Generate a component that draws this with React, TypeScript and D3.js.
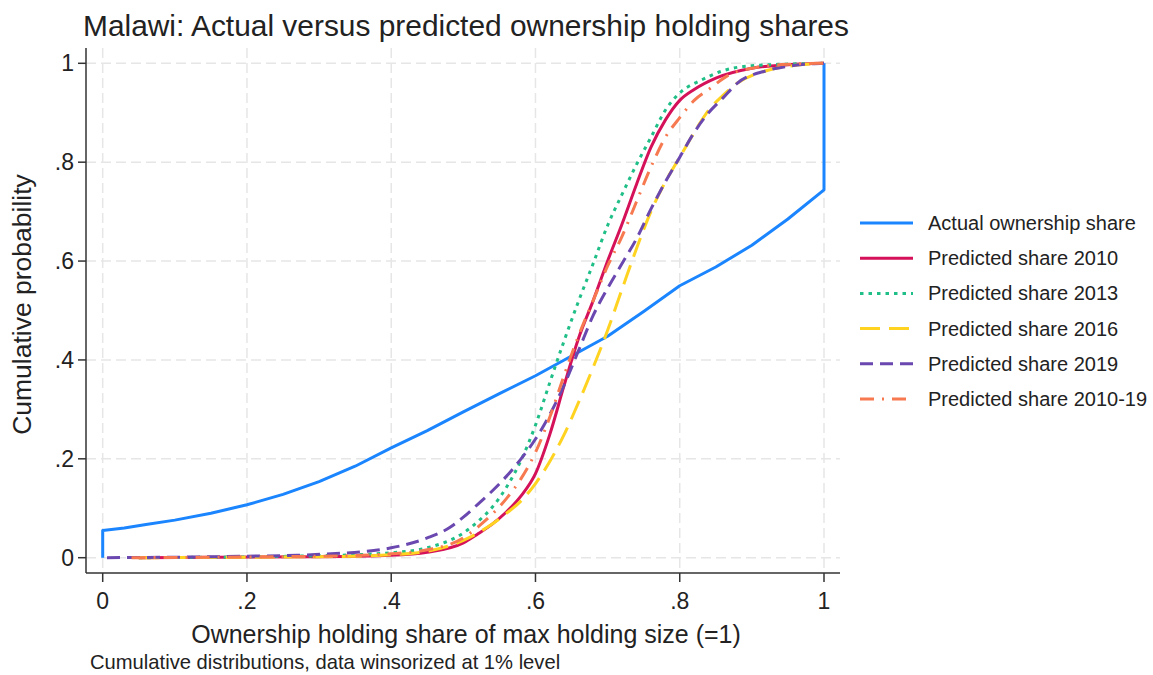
import { useEffect, useRef } from 'react'
import * as d3 from 'd3'

type Pt = [number, number]

const W = 1153
const H = 675
const FONT = '"Liberation Sans", Arial, Helvetica, sans-serif'

const TITLE = 'Malawi: Actual versus predicted ownership holding shares'
const X_TITLE = 'Ownership holding share of max holding size (=1)'
const Y_TITLE = 'Cumulative probability'
const NOTE = 'Cumulative distributions, data winsorized at 1% level'

const X_TICKS = [0, 0.2, 0.4, 0.6, 0.8, 1]
const Y_TICKS = [0, 0.2, 0.4, 0.6, 0.8, 1]

const actual: Pt[] = [
  [0, 0], [0, 0.055], [0.03, 0.06], [0.06, 0.067], [0.1, 0.076], [0.15, 0.09], [0.2, 0.107],
  [0.25, 0.128], [0.3, 0.154], [0.35, 0.185], [0.4, 0.222], [0.45, 0.257],
  [0.5, 0.295], [0.55, 0.332], [0.6, 0.368], [0.65, 0.408], [0.7, 0.448],
  [0.75, 0.498], [0.8, 0.55], [0.85, 0.588], [0.9, 0.632], [0.95, 0.685],
  [1, 0.744], [1, 1],
]

const pred2010: Pt[] = [
  [0.05, 0], [0.3, 0.002], [0.4, 0.005], [0.45, 0.011], [0.5, 0.03], [0.52, 0.048],
  [0.54, 0.068], [0.56, 0.093], [0.58, 0.125], [0.6, 0.17], [0.62, 0.25], [0.64, 0.35],
  [0.66, 0.445], [0.68, 0.52], [0.7, 0.6], [0.72, 0.675], [0.74, 0.755], [0.76, 0.83],
  [0.78, 0.885], [0.8, 0.925], [0.82, 0.947], [0.85, 0.97], [0.9, 0.99], [0.95, 0.997], [1, 1],
]

const pred2013: Pt[] = [
  [0.05, 0], [0.3, 0.004], [0.4, 0.01], [0.45, 0.02], [0.5, 0.05], [0.52, 0.073],
  [0.54, 0.102], [0.56, 0.143], [0.58, 0.197], [0.6, 0.268], [0.62, 0.355], [0.64, 0.44],
  [0.66, 0.52], [0.68, 0.595], [0.7, 0.672], [0.72, 0.735], [0.74, 0.795], [0.76, 0.85],
  [0.78, 0.905], [0.8, 0.94], [0.83, 0.966], [0.86, 0.985], [0.9, 0.995], [1, 1],
]

const pred2016: Pt[] = [
  [0.05, 0], [0.3, 0.002], [0.4, 0.006], [0.45, 0.013], [0.5, 0.035], [0.52, 0.05],
  [0.54, 0.068], [0.56, 0.09], [0.58, 0.115], [0.6, 0.15], [0.62, 0.195], [0.64, 0.25],
  [0.66, 0.315], [0.68, 0.385], [0.7, 0.46], [0.72, 0.543], [0.74, 0.625], [0.76, 0.7],
  [0.78, 0.76], [0.8, 0.81], [0.82, 0.86], [0.84, 0.905], [0.86, 0.935], [0.88, 0.96],
  [0.92, 0.985], [0.96, 0.996], [1, 1],
]

const pred2019: Pt[] = [
  [0.006, 0], [0.1, 0.001], [0.2, 0.003], [0.27, 0.005], [0.33, 0.009], [0.36, 0.012],
  [0.4, 0.02], [0.45, 0.04], [0.48, 0.06], [0.5, 0.082], [0.52, 0.108], [0.54, 0.135],
  [0.56, 0.165], [0.58, 0.2], [0.6, 0.24], [0.62, 0.29], [0.64, 0.35], [0.66, 0.42],
  [0.68, 0.49], [0.7, 0.545], [0.72, 0.595], [0.74, 0.645], [0.76, 0.705], [0.78, 0.76],
  [0.8, 0.81], [0.82, 0.86], [0.84, 0.9], [0.86, 0.93], [0.88, 0.96], [0.92, 0.985],
  [0.96, 0.996], [1, 1],
]

const pred201019: Pt[] = [
  [0.04, 0], [0.3, 0.003], [0.4, 0.008], [0.45, 0.016], [0.5, 0.04], [0.52, 0.062],
  [0.54, 0.088], [0.56, 0.12], [0.58, 0.16], [0.6, 0.213], [0.62, 0.285], [0.64, 0.37],
  [0.66, 0.45], [0.68, 0.52], [0.7, 0.59], [0.72, 0.65], [0.74, 0.72], [0.76, 0.79],
  [0.78, 0.85], [0.8, 0.89], [0.82, 0.925], [0.84, 0.947], [0.87, 0.978], [0.9, 0.99],
  [0.95, 0.998], [1, 1],
]

const SERIES = [
  { label: 'Actual ownership share', data: actual, color: '#1a85ff', dash: null, linear: true },
  { label: 'Predicted share 2010', data: pred2010, color: '#d41159', dash: null, linear: false },
  { label: 'Predicted share 2013', data: pred2013, color: '#1fbf87', dash: '3.5,5', linear: false },
  { label: 'Predicted share 2016', data: pred2016, color: '#ffd320', dash: '20,9', linear: false },
  { label: 'Predicted share 2019', data: pred2019, color: '#6a48b0', dash: '13,7', linear: false },
  { label: 'Predicted share 2010-19', data: pred201019, color: '#f7794f', dash: '14,8,2,8', linear: false },
]

const fmt = (d: number) => (d === 0 ? '0' : d === 1 ? '1' : d3.format('.1f')(d).replace(/^0/, ''))

export default function App() {
  const svgRef = useRef<SVGSVGElement>(null)

  useEffect(() => {
    document.body.style.margin = '0'
    const svg = d3.select(svgRef.current!)
    svg.selectAll('*').remove()

    const x = d3.scaleLinear([0, 1], [102.7, 824])
    const y = d3.scaleLinear([0, 1], [557.7, 63.3])
    const frame = { left: 86, right: 840, top: 48, bottom: 573 }

    svg.append('rect').attr('width', W).attr('height', H).attr('fill', '#fff')

    // ── Grid ───────────────────────────────────────────────────────────
    const grid = svg.append('g').attr('stroke', '#e6e6e6').attr('stroke-width', 1.5).attr('stroke-dasharray', '10,5')
    Y_TICKS.forEach(t => {
      grid.append('line').attr('x1', frame.left).attr('x2', frame.right).attr('y1', y(t)).attr('y2', y(t))
    })
    X_TICKS.forEach(t => {
      grid.append('line').attr('x1', x(t)).attr('x2', x(t)).attr('y1', frame.top).attr('y2', frame.bottom)
    })

    // ── Series ─────────────────────────────────────────────────────────
    SERIES.forEach(s => {
      const line = d3.line<Pt>()
        .x(d => x(d[0]))
        .y(d => y(d[1]))
        .curve(s.linear ? d3.curveLinear : d3.curveMonotoneX)
      const p = svg.append('path')
        .datum(s.data)
        .attr('d', line)
        .attr('fill', 'none')
        .attr('stroke', s.color)
        .attr('stroke-width', 3)
        .attr('stroke-linejoin', 'round')
      if (s.dash) p.attr('stroke-dasharray', s.dash)
    })

    // ── Axes ───────────────────────────────────────────────────────────
    const axisCol = '#333'
    svg.append('line').attr('x1', frame.left).attr('x2', frame.left).attr('y1', frame.top).attr('y2', frame.bottom)
      .attr('stroke', axisCol).attr('stroke-width', 1.5)
    svg.append('line').attr('x1', frame.left).attr('x2', frame.right).attr('y1', frame.bottom).attr('y2', frame.bottom)
      .attr('stroke', axisCol).attr('stroke-width', 1.5)

    Y_TICKS.forEach(t => {
      svg.append('line').attr('x1', frame.left - 8).attr('x2', frame.left).attr('y1', y(t)).attr('y2', y(t))
        .attr('stroke', axisCol).attr('stroke-width', 1.5)
      svg.append('text').attr('x', frame.left - 12).attr('y', y(t)).attr('dy', '0.35em')
        .attr('text-anchor', 'end').attr('font-size', 23).attr('fill', '#222').attr('font-family', FONT)
        .text(fmt(t))
    })
    X_TICKS.forEach(t => {
      svg.append('line').attr('x1', x(t)).attr('x2', x(t)).attr('y1', frame.bottom).attr('y2', frame.bottom + 9)
        .attr('stroke', axisCol).attr('stroke-width', 1.5)
      svg.append('text').attr('x', x(t)).attr('y', 609)
        .attr('text-anchor', 'middle').attr('font-size', 23).attr('fill', '#222').attr('font-family', FONT)
        .text(fmt(t))
    })

    // ── Titles ─────────────────────────────────────────────────────────
    svg.append('text').attr('x', 83).attr('y', 36).attr('font-size', 29.9).attr('fill', '#222')
      .attr('font-family', FONT).text(TITLE)
    svg.append('text').attr('x', (frame.left + frame.right) / 2 + 3).attr('y', 643)
      .attr('text-anchor', 'middle').attr('font-size', 25).attr('fill', '#222').attr('font-family', FONT)
      .text(X_TITLE)
    svg.append('text').attr('transform', `translate(31,${(frame.top + frame.bottom) / 2 - 6}) rotate(-90)`)
      .attr('text-anchor', 'middle').attr('font-size', 26.5).attr('fill', '#222').attr('font-family', FONT)
      .text(Y_TITLE)
    svg.append('text').attr('x', 90).attr('y', 669).attr('font-size', 20.2).attr('fill', '#222')
      .attr('font-family', FONT).text(NOTE)

    // ── Legend ─────────────────────────────────────────────────────────
    SERIES.forEach((s, i) => {
      const ly = 223 + i * 35.2
      const l = svg.append('line').attr('x1', 860).attr('x2', 913).attr('y1', ly).attr('y2', ly)
        .attr('stroke', s.color).attr('stroke-width', 3)
      if (s.dash) l.attr('stroke-dasharray', s.dash)
      svg.append('text').attr('x', 928).attr('y', ly).attr('dy', '0.35em')
        .attr('font-size', 20).attr('fill', '#222').attr('font-family', FONT)
        .text(s.label)
    })
  }, [])

  return <svg ref={svgRef} width={W} height={H} style={{ display: 'block' }} />
}
